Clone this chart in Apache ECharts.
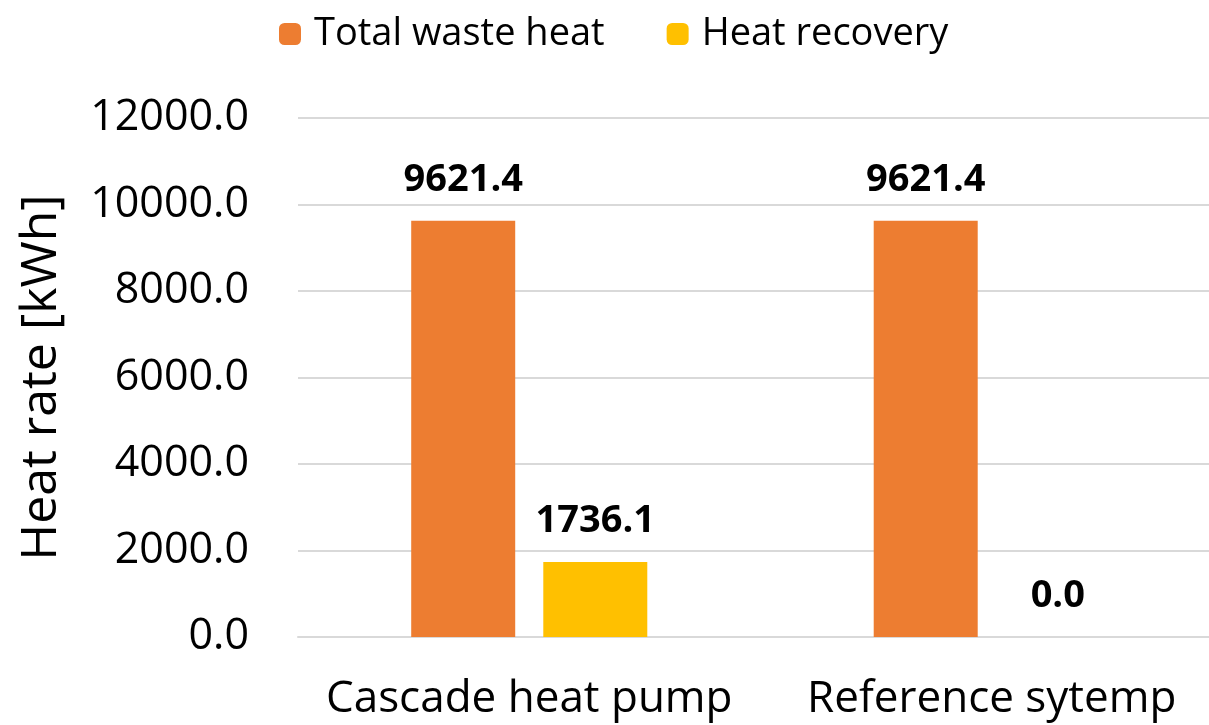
<!DOCTYPE html>
<html>
<head>
<meta charset="utf-8">
<script src="https://cdn.jsdelivr.net/npm/echarts@6/dist/echarts.min.js"></script>
<style>html,body{margin:0;padding:0;background:#fff}#c{width:1209px;height:725px}</style>
</head>
<body>
<div id="c"></div>
<script>
const categories = ['Cascade heat pump', 'Reference sytemp'];
const totalWasteHeat = [9621.4, 9621.4];
const heatRecovery = [1736.1, 0.0];
const seriesNames = ['Total waste heat', 'Heat recovery'];
const yAxisName = 'Heat rate [kWh]';

const FONT = 'Open Sans';
const chart = echarts.init(document.getElementById('c'));
const labelCfg = {
  show: true, position: 'top', distance: 22,
  fontFamily: FONT, fontSize: 38, fontWeight: 'bold', color: '#000',
  formatter: p => p.value.toFixed(1)
};
chart.setOption({
  animation: false,
  legend: {
    top: 15, left: 279, padding: 0,
    itemWidth: 22, itemHeight: 22, itemGap: 62,
    textStyle: { fontFamily: FONT, fontSize: 38, color: '#000', padding: [0, 0, 0, 8] },
    data: seriesNames
  },
  grid: { left: 298, right: -14, top: 118, bottom: 88, outerBoundsMode: 'none' },
  xAxis: {
    type: 'category', data: categories,
    axisLine: { show: true, lineStyle: { color: '#d9d9d9', width: 2 } },
    axisTick: { show: false },
    axisLabel: { fontFamily: FONT, fontSize: 44, color: '#000', margin: 40, interval: 0 }
  },
  yAxis: {
    type: 'value', min: 0, max: 12000, interval: 2000,
    name: yAxisName, nameLocation: 'middle', nameGap: 231,
    nameTextStyle: { fontFamily: FONT, fontSize: 50, color: '#000' },
    axisLabel: { fontFamily: FONT, fontSize: 43, color: '#000', margin: 49, formatter: v => v.toFixed(1) },
    splitLine: { lineStyle: { color: '#d9d9d9', width: 2 } },
    axisLine: { show: false }, axisTick: { show: false }
  },
  series: [
    { name: seriesNames[0], type: 'bar', data: totalWasteHeat, barWidth: 104, barGap: '27%',
      itemStyle: { color: '#ED7D31' }, label: labelCfg },
    { name: seriesNames[1], type: 'bar', data: heatRecovery, barWidth: 104,
      itemStyle: { color: '#FFC000' }, label: labelCfg }
  ]
});
</script>
</body>
</html>
